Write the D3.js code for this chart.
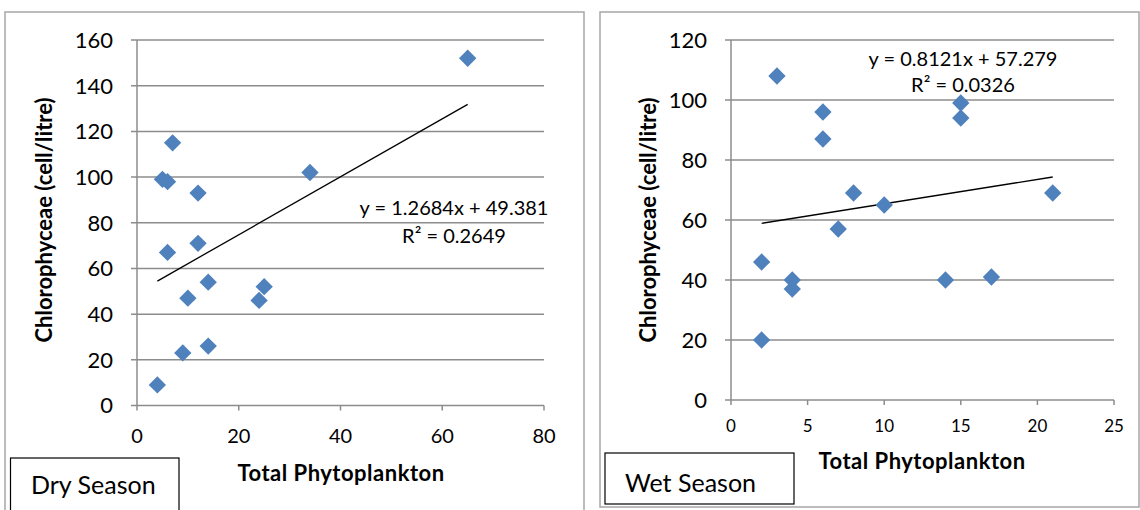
<!DOCTYPE html>
<html>
<head>
<meta charset="utf-8">
<script src="https://cdn.jsdelivr.net/npm/d3@7"></script>
<style>
  body { margin: 0; background: #fff; }
  text { font-family: Lato, "Open Sans", sans-serif; fill: #000; }
</style>
</head>
<body>
<svg id="chart" width="1140" height="510"></svg>
<script>
// Dry season: total phytoplankton vs chlorophyceae
var dryX = [65, 7, 5, 6, 12, 34, 6, 12, 14, 10, 25, 24, 14, 9, 4];
var dryY = [152, 115, 99, 98, 93, 102, 67, 71, 54, 47, 52, 46, 26, 23, 9];
var dryFit = {slope: 1.2684, intercept: 49.381, r2: "0.2649"};
var dryXTicks = [0, 20, 40, 60, 80];
var dryYTicks = [0, 20, 40, 60, 80, 100, 120, 140, 160];

// Wet season
var wetX = [3, 6, 6, 15, 15, 8, 10, 21, 7, 2, 4, 4, 2, 14, 17];
var wetY = [108, 96, 87, 99, 94, 69, 65, 69, 57, 46, 40, 37, 20, 40, 41];
var wetFit = {slope: 0.8121, intercept: 57.279, r2: "0.0326"};
var wetXTicks = [0, 5, 10, 15, 20, 25];
var wetYTicks = [0, 20, 40, 60, 80, 100, 120];

var svg = d3.select("#chart");
var grey = "#8c8c8c";

function panel(opt) {
  var g = svg.append("g");

  // outer frame
  g.append("rect")
    .attr("x", opt.frame[0]).attr("y", opt.frame[1])
    .attr("width", opt.frame[2]).attr("height", opt.frame[3])
    .attr("fill", "none").attr("stroke", "#a6a6a6").attr("stroke-width", 1.5);

  var x = d3.scaleLinear().domain(d3.extent(opt.xTicks)).range(opt.xRange);
  var y = d3.scaleLinear().domain(d3.extent(opt.yTicks)).range(opt.yRange);

  // horizontal gridlines (reach a little left of the axis, like tick marks)
  g.selectAll(".grid")
    .data(opt.yTicks)
    .join("line")
      .attr("x1", x.range()[0] - 6).attr("x2", x.range()[1])
      .attr("y1", d => y(d)).attr("y2", d => y(d))
      .attr("stroke", grey).attr("stroke-width", 1.5);

  // y axis line
  g.append("line")
    .attr("x1", x.range()[0]).attr("x2", x.range()[0])
    .attr("y1", y.range()[0]).attr("y2", y.range()[1])
    .attr("stroke", grey).attr("stroke-width", 1.5);

  // x tick marks
  g.selectAll(".xtick")
    .data(opt.xTicks)
    .join("line")
      .attr("x1", d => x(d)).attr("x2", d => x(d))
      .attr("y1", y.range()[0]).attr("y2", y.range()[0] + 5)
      .attr("stroke", grey).attr("stroke-width", 1.5);

  g.selectAll(".ylab")
    .data(opt.yTicks)
    .join("text")
      .attr("x", x.range()[0] - 24)
      .attr("y", d => y(d))
      .attr("dy", "0.36em")
      .attr("text-anchor", "end")
      .style("font-size", opt.yFont + "px")
      .text(d => d);

  g.selectAll(".xlab")
    .data(opt.xTicks)
    .join("text")
      .attr("x", d => x(d))
      .attr("y", y.range()[0] + opt.xLabOff)
      .attr("text-anchor", "middle")
      .style("font-size", opt.xFont + "px")
      .text(d => d);

  // axis titles
  g.append("text")
    .attr("x", opt.xTitle[0]).attr("y", opt.xTitle[1])
    .attr("text-anchor", "middle")
    .style("font-size", "22px").style("font-weight", "bold")
    .style("letter-spacing", "0.5px")
    .text("Total Phytoplankton");

  g.append("text")
    .attr("transform", "translate(" + opt.yTitle[0] + "," + opt.yTitle[1] + ") rotate(-90)")
    .attr("text-anchor", "middle")
    .style("font-size", "22px").style("font-weight", "bold")
    .text("Chlorophyceae (cell/litre)");

  // trendline over the range of the data
  var ext = d3.extent(opt.xs);
  g.append("line")
    .attr("x1", x(ext[0])).attr("y1", y(opt.fit.slope * ext[0] + opt.fit.intercept))
    .attr("x2", x(ext[1])).attr("y2", y(opt.fit.slope * ext[1] + opt.fit.intercept))
    .attr("stroke", "#000").attr("stroke-width", 1.3);

  // markers
  var diamond = d3.symbol().type(d3.symbolSquare).size(150);
  g.selectAll(".pt")
    .data(d3.zip(opt.xs, opt.ys))
    .join("path")
      .attr("d", diamond)
      .attr("transform", d => "translate(" + x(d[0]) + "," + y(d[1]) + ") rotate(45)")
      .attr("fill", "#4f81bd");

  // equation label
  var eq = g.append("text")
    .attr("text-anchor", "middle")
    .style("font-size", "20px");
  eq.append("tspan")
    .attr("x", opt.eq[0]).attr("y", opt.eq[1])
    .text("y = " + opt.fit.slope + "x + " + opt.fit.intercept);
  eq.append("tspan")
    .attr("x", opt.eq[0]).attr("y", opt.eq[1] + opt.eqGap)
    .text("R\u00b2 = " + opt.fit.r2);

  // season label box
  g.append("rect")
    .attr("x", opt.box[0]).attr("y", opt.box[1])
    .attr("width", opt.box[2]).attr("height", opt.box[3])
    .attr("fill", "#fff").attr("stroke", "#000").attr("stroke-width", 1.2);
  g.append("text")
    .attr("x", opt.boxText[0]).attr("y", opt.boxText[1])
    .style("font-size", "25px")
    .text(opt.season);
}

panel({
  frame: [5, 12, 579, 520],
  xRange: [137, 544], yRange: [405.5, 40],
  xTicks: dryXTicks, yTicks: dryYTicks,
  xs: dryX, ys: dryY, fit: dryFit,
  yFont: 22, xFont: 20, xLabOff: 37,
  xTitle: [341, 481], yTitle: [52, 220],
  eq: [454, 215], eqGap: 28,
  box: [10.5, 458, 168.5, 60], boxText: [31, 494],
  season: "Dry Season"
});

panel({
  frame: [600, 12, 539, 495],
  xRange: [731, 1114], yRange: [400, 40],
  xTicks: wetXTicks, yTicks: wetYTicks,
  xs: wetX, ys: wetY, fit: wetFit,
  yFont: 22, xFont: 17, xLabOff: 32,
  xTitle: [922, 469], yTitle: [656, 220],
  eq: [963, 66], eqGap: 26,
  box: [605, 453, 189, 51], boxText: [625, 492],
  season: "Wet Season"
});
</script>
</body>
</html>
